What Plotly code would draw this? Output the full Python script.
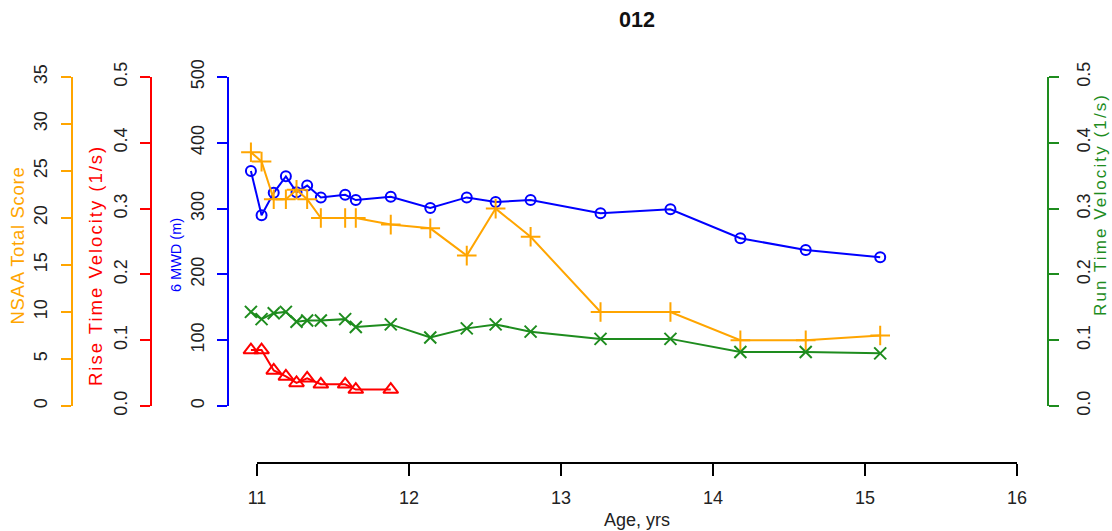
import plotly.graph_objects as go

# ---------------- data ----------------
age = [10.96, 11.03, 11.11, 11.19, 11.26, 11.33, 11.42, 11.58, 11.65, 11.88,
       12.14, 12.38, 12.57, 12.80, 13.26, 13.72, 14.18, 14.61, 15.10]
mwd6 = [357, 290, 324, 349, 325, 335, 317, 321, 313, 318,
        301, 317, 310, 313, 293, 299, 255, 237, 226]
nsaa = [27, 26, 22, 22, 23, 22, 20, 20, 20, 19.3,
        18.9, 16, 21, 18, 10, 10, 7, 7, 7.5]
run_vel = [0.143, 0.132, 0.141, 0.143, 0.128, 0.130, 0.130, 0.132, 0.120, 0.124,
           0.104, 0.118, 0.124, 0.113, 0.102, 0.102, 0.082, 0.082, 0.080]
rise_age = age[:10]
rise_vel = [0.085, 0.085, 0.054, 0.045, 0.035, 0.042, 0.033, 0.033, 0.025, 0.025]

x_ticks = [11, 12, 13, 14, 15, 16]

# ---------------- layout helpers ----------------
W, H = 1112, 531
FONT = "Liberation Sans, Arial, sans-serif"
ORANGE = "#FFA500"
RED = "#FF0000"
BLUE = "#0000FF"
GREEN = "#1E8C1E"

def fx(px):
    return px / W

def fy(py):
    return 1 - py / H

X11, PX_PER_YR = 257.0, 152.0
PLOT_L, PLOT_R = 227.0, 1048.0
Y0, YTOP = 406.0, 77.0

def px_to_age(px):
    return 11 + (px - X11) / PX_PER_YR

fig = go.Figure()

fig.add_trace(go.Scatter(
    x=age, y=mwd6, mode="lines+markers", xaxis="x", yaxis="y",
    line=dict(color=BLUE, width=2),
    marker=dict(symbol="circle-open", size=10, color=BLUE, line=dict(width=2, color=BLUE)),
    showlegend=False, hoverinfo="skip"))
fig.add_trace(go.Scatter(
    x=age, y=nsaa, mode="lines+markers", xaxis="x", yaxis="y3",
    line=dict(color=ORANGE, width=2),
    marker=dict(symbol="cross-thin-open", size=14, color=ORANGE, line=dict(width=2, color=ORANGE)),
    showlegend=False, hoverinfo="skip"))
fig.add_trace(go.Scatter(
    x=age, y=run_vel, mode="lines+markers", xaxis="x", yaxis="y4",
    line=dict(color=GREEN, width=2),
    marker=dict(symbol="x-thin-open", size=12, color=GREEN, line=dict(width=2, color=GREEN)),
    showlegend=False, hoverinfo="skip"))
fig.add_trace(go.Scatter(
    x=rise_age, y=rise_vel, mode="lines+markers", xaxis="x", yaxis="y2",
    line=dict(color=RED, width=2),
    marker=dict(symbol="triangle-up-open", size=13, color=RED, line=dict(width=2, color=RED)),
    showlegend=False, hoverinfo="skip"))
# dummy trace so the display x axis is drawn
fig.add_trace(go.Scatter(x=[x_ticks[0]], y=[None], xaxis="x2", yaxis="y",
                         mode="markers", showlegend=False, hoverinfo="skip"))

ydomain = [fy(Y0), fy(YTOP)]
tickfont = dict(family=FONT, size=18, color="#222222")

def yax(color, rng, dtick, pos, fmt, side="left", overlay=None, standoff=5):
    d = dict(domain=ydomain, range=rng, anchor="free", position=pos, side=side,
             showline=True, linecolor=color, linewidth=2,
             ticks="outside", tickcolor=color, ticklen=10, tickwidth=2,
             tick0=0, dtick=dtick, tickformat=fmt, tickangle=-90,
             tickfont=tickfont, ticklabelstandoff=standoff,
             showgrid=False, zeroline=False, fixedrange=True, automargin=False)
    if overlay:
        d["overlaying"] = overlay
    return d

fig.update_layout(
    width=W, height=H,
    margin=dict(l=0, r=0, t=0, b=0, pad=0, autoexpand=False),
    paper_bgcolor="white", plot_bgcolor="rgba(0,0,0,0)",
    font=dict(family=FONT, size=18, color="#222222"),
    showlegend=False,
    xaxis=dict(domain=[fx(PLOT_L), fx(PLOT_R)],
               range=[px_to_age(PLOT_L), px_to_age(PLOT_R)],
               visible=False, fixedrange=True, automargin=False),
    xaxis2=dict(domain=[fx(X11), fx(X11 + 5 * PX_PER_YR)], range=[11, 16],
                anchor="free", position=fy(463),
                showline=True, linecolor="black", linewidth=2,
                ticks="outside", tickcolor="black", ticklen=12, tickwidth=2,
                tickvals=x_ticks, tickfont=tickfont, ticklabelstandoff=6,
                showgrid=False, zeroline=False, fixedrange=True, automargin=False),
    yaxis=yax(BLUE, [0, 500], 100, fx(227.5), "d"),
    yaxis2=yax(RED, [0, 0.5], 0.1, fx(150.5), ".1f", overlay="y"),
    yaxis3=yax(ORANGE, [0, 35], 5, fx(72), "d", overlay="y", standoff=7),
    yaxis4=yax(GREEN, [0, 0.5], 0.1, fx(1048), ".1f", side="right", overlay="y", standoff=9),
)

def ann(text, px, py, size, color, angle=0, bold=False, spacing=0):
    t = f"<b>{text}</b>" if bold else text
    if spacing:
        t = f'<span style="letter-spacing:{spacing}px">{t}</span>'
    fig.add_annotation(
        text=t, x=fx(px), y=fy(py), xref="paper", yref="paper",
        xanchor="center", yanchor="middle", showarrow=False, textangle=angle,
        font=dict(family=FONT, size=size, color=color))

ann("012", 637, 20, 21.6, "#111111", bold=True)
ann("Age, yrs", 637, 520, 18, "#222222")
ann("NSAA Total Score", 17.5, 246, 18.5, ORANGE, angle=-90, spacing=0.7)
ann("Rise Time Velocity (1/s)", 95, 266, 18.5, RED, angle=-90, spacing=2.0)
ann("6 MWD (m)", 176, 255, 14.5, BLUE, angle=-90)
ann("Run Time Velocity (1/s)", 1100, 205, 17, GREEN, angle=-90, spacing=2.1)

fig.write_html("out.html", config={"displayModeBar": False},
               post_script="document.body.style.margin='0';")
